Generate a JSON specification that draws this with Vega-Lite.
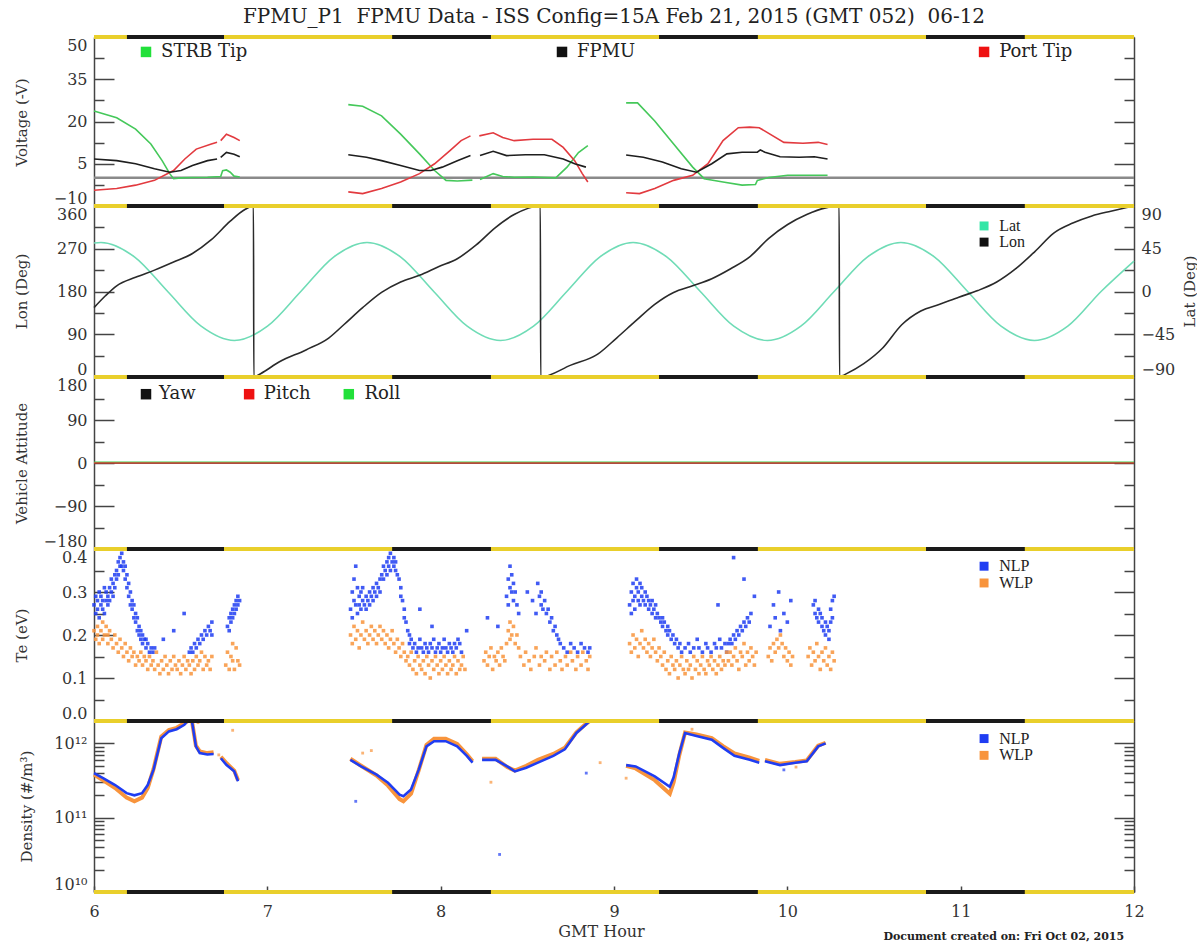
{
"$schema":"https://vega.github.io/schema/vega-lite/v6.json",
"background":"white",
"padding":{"left":14,"top":7,"right":0,"bottom":0},
"title":{"text":"FPMU_P1\u00a0\u00a0FPMU Data - ISS Config=15A Feb 21, 2015 (GMT 052)\u00a0\u00a006-12","fontSize":20,"fontWeight":"normal","font":"DejaVu Serif","color":"#222222","offset":8,"anchor":"middle","frame":"group"},
"config":{"view":{"stroke":null},"font":"DejaVu Serif",
"axis":{"grid":false,"labelFont":"DejaVu Serif","labelFontSize":16,"labelColor":"#333333","titleFont":"DejaVu Serif","titleFontSize":15,"titleFontWeight":"normal","titleColor":"#333333","domainColor":"#444444","domainWidth":1.5,"tickColor":"#444444","tickWidth":1.5}},
"spacing":0,
"bounds":"flush",
"resolve":{"scale":{"color":"independent","y":"independent","x":"independent"}},
"datasets":{
"ecl":[{"a":6.19,"b":6.75},{"a":7.72,"b":8.29},{"a":9.26,"b":9.83},{"a":10.80,"b":11.37}],
"volt":[
{"h":6.0,"v":23.7,"s":"STRB","g":"a1"},{"h":6.131,"v":21.3,"s":"STRB","g":"a1"},{"h":6.24,"v":17.3,"s":"STRB","g":"a1"},{"h":6.328,"v":12.0,"s":"STRB","g":"a1"},{"h":6.393,"v":6.1,"s":"STRB","g":"a1"},{"h":6.437,"v":1.5,"s":"STRB","g":"a1"},{"h":6.459,"v":-0.3,"s":"STRB","g":"a1"},{"h":6.502,"v":0,"s":"STRB","g":"a1"},{"h":6.568,"v":0.1,"s":"STRB","g":"a1"},{"h":6.655,"v":0.2,"s":"STRB","g":"a1"},{"h":6.731,"v":0.5,"s":"STRB","g":"a1"},{"h":6.742,"v":2.5,"s":"STRB","g":"a1"},{"h":6.764,"v":2.8,"s":"STRB","g":"a1"},{"h":6.786,"v":2.0,"s":"STRB","g":"a1"},{"h":6.808,"v":0.6,"s":"STRB","g":"a1"},{"h":6.841,"v":0.3,"s":"STRB","g":"a1"},
{"h":7.467,"v":26.0,"s":"STRB","g":"a2"},{"h":7.55,"v":25.4,"s":"STRB","g":"a2"},{"h":7.659,"v":22.0,"s":"STRB","g":"a2"},{"h":7.769,"v":15.5,"s":"STRB","g":"a2"},{"h":7.878,"v":8.5,"s":"STRB","g":"a2"},{"h":7.965,"v":2.6,"s":"STRB","g":"a2"},{"h":8.031,"v":-0.9,"s":"STRB","g":"a2"},{"h":8.096,"v":-1.1,"s":"STRB","g":"a2"},{"h":8.183,"v":-0.8,"s":"STRB","g":"a2"},
{"h":8.227,"v":-0.6,"s":"STRB","g":"a3"},{"h":8.303,"v":1.5,"s":"STRB","g":"a3"},{"h":8.358,"v":0.5,"s":"STRB","g":"a3"},{"h":8.424,"v":0.2,"s":"STRB","g":"a3"},{"h":8.533,"v":0.3,"s":"STRB","g":"a3"},{"h":8.664,"v":0.0,"s":"STRB","g":"a3"},{"h":8.729,"v":3.8,"s":"STRB","g":"a3"},{"h":8.795,"v":9.0,"s":"STRB","g":"a3"},{"h":8.849,"v":11.4,"s":"STRB","g":"a3"},
{"h":9.07,"v":26.6,"s":"STRB","g":"a4"},{"h":9.136,"v":26.6,"s":"STRB","g":"a4"},{"h":9.235,"v":20.2,"s":"STRB","g":"a4"},{"h":9.344,"v":12.0,"s":"STRB","g":"a4"},{"h":9.454,"v":3.8,"s":"STRB","g":"a4"},{"h":9.52,"v":-0.3,"s":"STRB","g":"a4"},{"h":9.629,"v":-1.5,"s":"STRB","g":"a4"},{"h":9.739,"v":-2.6,"s":"STRB","g":"a4"},{"h":9.816,"v":-2.4,"s":"STRB","g":"a4"},{"h":9.827,"v":-0.9,"s":"STRB","g":"a4"},{"h":9.893,"v":0.1,"s":"STRB","g":"a4"},{"h":10.002,"v":0.9,"s":"STRB","g":"a4"},{"h":10.112,"v":0.9,"s":"STRB","g":"a4"},{"h":10.232,"v":0.9,"s":"STRB","g":"a4"},
{"h":6.0,"v":-4.4,"s":"Port","g":"b1"},{"h":6.131,"v":-3.8,"s":"Port","g":"b1"},{"h":6.24,"v":-2.6,"s":"Port","g":"b1"},{"h":6.349,"v":-0.9,"s":"Port","g":"b1"},{"h":6.459,"v":2.6,"s":"Port","g":"b1"},{"h":6.524,"v":6.7,"s":"Port","g":"b1"},{"h":6.59,"v":10.2,"s":"Port","g":"b1"},{"h":6.677,"v":12.0,"s":"Port","g":"b1"},{"h":6.71,"v":12.6,"s":"Port","g":"b1"},
{"h":6.731,"v":13.2,"s":"Port","g":"b2"},{"h":6.764,"v":15.5,"s":"Port","g":"b2"},{"h":6.808,"v":14.3,"s":"Port","g":"b2"},{"h":6.841,"v":13.2,"s":"Port","g":"b2"},
{"h":7.467,"v":-5.0,"s":"Port","g":"b3"},{"h":7.55,"v":-5.6,"s":"Port","g":"b3"},{"h":7.659,"v":-3.8,"s":"Port","g":"b3"},{"h":7.769,"v":-1.5,"s":"Port","g":"b3"},{"h":7.878,"v":1.5,"s":"Port","g":"b3"},{"h":7.965,"v":5.0,"s":"Port","g":"b3"},{"h":8.052,"v":9.6,"s":"Port","g":"b3"},{"h":8.118,"v":13.2,"s":"Port","g":"b3"},{"h":8.172,"v":14.9,"s":"Port","g":"b3"},
{"h":8.223,"v":14.9,"s":"Port","g":"b4"},{"h":8.303,"v":16.0,"s":"Port","g":"b4"},{"h":8.358,"v":14.3,"s":"Port","g":"b4"},{"h":8.424,"v":13.2,"s":"Port","g":"b4"},{"h":8.533,"v":13.7,"s":"Port","g":"b4"},{"h":8.642,"v":13.7,"s":"Port","g":"b4"},{"h":8.707,"v":10.8,"s":"Port","g":"b4"},{"h":8.773,"v":6.1,"s":"Port","g":"b4"},{"h":8.817,"v":1.5,"s":"Port","g":"b4"},{"h":8.849,"v":-1.5,"s":"Port","g":"b4"},
{"h":9.07,"v":-5.3,"s":"Port","g":"b5"},{"h":9.147,"v":-5.6,"s":"Port","g":"b5"},{"h":9.235,"v":-3.8,"s":"Port","g":"b5"},{"h":9.344,"v":-0.9,"s":"Port","g":"b5"},{"h":9.454,"v":0.9,"s":"Port","g":"b5"},{"h":9.542,"v":5.0,"s":"Port","g":"b5"},{"h":9.629,"v":13.2,"s":"Port","g":"b5"},{"h":9.717,"v":17.8,"s":"Port","g":"b5"},{"h":9.783,"v":18.0,"s":"Port","g":"b5"},{"h":9.838,"v":17.8,"s":"Port","g":"b5"},{"h":9.871,"v":16.6,"s":"Port","g":"b5"},{"h":9.98,"v":12.6,"s":"Port","g":"b5"},{"h":10.09,"v":12.3,"s":"Port","g":"b5"},{"h":10.178,"v":12.6,"s":"Port","g":"b5"},{"h":10.232,"v":11.8,"s":"Port","g":"b5"},
{"h":6.0,"v":6.7,"s":"FPMU","g":"c1"},{"h":6.131,"v":6.1,"s":"FPMU","g":"c1"},{"h":6.24,"v":5.0,"s":"FPMU","g":"c1"},{"h":6.349,"v":3.2,"s":"FPMU","g":"c1"},{"h":6.437,"v":2.0,"s":"FPMU","g":"c1"},{"h":6.502,"v":2.6,"s":"FPMU","g":"c1"},{"h":6.568,"v":4.4,"s":"FPMU","g":"c1"},{"h":6.655,"v":6.1,"s":"FPMU","g":"c1"},{"h":6.71,"v":6.7,"s":"FPMU","g":"c1"},
{"h":6.731,"v":7.3,"s":"FPMU","g":"c2"},{"h":6.764,"v":9.0,"s":"FPMU","g":"c2"},{"h":6.808,"v":8.4,"s":"FPMU","g":"c2"},{"h":6.841,"v":7.5,"s":"FPMU","g":"c2"},
{"h":7.467,"v":8.2,"s":"FPMU","g":"c3"},{"h":7.572,"v":7.3,"s":"FPMU","g":"c3"},{"h":7.659,"v":6.1,"s":"FPMU","g":"c3"},{"h":7.769,"v":4.4,"s":"FPMU","g":"c3"},{"h":7.878,"v":2.6,"s":"FPMU","g":"c3"},{"h":7.943,"v":2.6,"s":"FPMU","g":"c3"},{"h":8.009,"v":3.8,"s":"FPMU","g":"c3"},{"h":8.096,"v":6.1,"s":"FPMU","g":"c3"},{"h":8.172,"v":7.9,"s":"FPMU","g":"c3"},
{"h":8.227,"v":7.9,"s":"FPMU","g":"c4"},{"h":8.303,"v":9.4,"s":"FPMU","g":"c4"},{"h":8.38,"v":7.9,"s":"FPMU","g":"c4"},{"h":8.489,"v":8.2,"s":"FPMU","g":"c4"},{"h":8.598,"v":8.2,"s":"FPMU","g":"c4"},{"h":8.707,"v":6.7,"s":"FPMU","g":"c4"},{"h":8.773,"v":5.0,"s":"FPMU","g":"c4"},{"h":8.838,"v":3.8,"s":"FPMU","g":"c4"},
{"h":9.07,"v":8.1,"s":"FPMU","g":"c5"},{"h":9.169,"v":7.3,"s":"FPMU","g":"c5"},{"h":9.279,"v":5.6,"s":"FPMU","g":"c5"},{"h":9.388,"v":3.2,"s":"FPMU","g":"c5"},{"h":9.476,"v":2.0,"s":"FPMU","g":"c5"},{"h":9.564,"v":5.0,"s":"FPMU","g":"c5"},{"h":9.651,"v":8.5,"s":"FPMU","g":"c5"},{"h":9.739,"v":9.1,"s":"FPMU","g":"c5"},{"h":9.827,"v":9.1,"s":"FPMU","g":"c5"},{"h":9.844,"v":9.9,"s":"FPMU","g":"c5"},{"h":9.871,"v":9.1,"s":"FPMU","g":"c5"},{"h":9.958,"v":7.5,"s":"FPMU","g":"c5"},{"h":10.068,"v":7.3,"s":"FPMU","g":"c5"},{"h":10.156,"v":7.5,"s":"FPMU","g":"c5"},{"h":10.232,"v":6.7,"s":"FPMU","g":"c5"}
],
"lon":[
{"h":6.0,"lon":146},{"h":6.066,"lon":171},{"h":6.131,"lon":192},{"h":6.24,"lon":210},{"h":6.349,"lon":225},{"h":6.459,"lon":242},{"h":6.568,"lon":260},{"h":6.677,"lon":289},{"h":6.786,"lon":328},{"h":6.873,"lon":353},{"h":6.92,"lon":360},{"h":6.922,"lon":0},{"h":6.961,"lon":7},{"h":7.07,"lon":32},{"h":7.223,"lon":57},{"h":7.354,"lon":82},{"h":7.441,"lon":110},{"h":7.55,"lon":146},{"h":7.659,"lon":178},{"h":7.769,"lon":200},{"h":7.878,"lon":214},{"h":7.987,"lon":232},{"h":8.096,"lon":249},{"h":8.205,"lon":278},{"h":8.314,"lon":314},{"h":8.424,"lon":342},{"h":8.575,"lon":360},{"h":8.577,"lon":0},{"h":8.751,"lon":25},{"h":8.906,"lon":48},{"h":9.015,"lon":82},{"h":9.125,"lon":118},{"h":9.235,"lon":153},{"h":9.344,"lon":178},{"h":9.454,"lon":192},{"h":9.564,"lon":207},{"h":9.673,"lon":228},{"h":9.783,"lon":253},{"h":9.893,"lon":292},{"h":10.002,"lon":321},{"h":10.112,"lon":342},{"h":10.221,"lon":356},{"h":10.299,"lon":360},{"h":10.301,"lon":0},{"h":10.331,"lon":5},{"h":10.441,"lon":28},{"h":10.55,"lon":61},{"h":10.66,"lon":110},{"h":10.77,"lon":139},{"h":10.879,"lon":153},{"h":10.989,"lon":168},{"h":11.099,"lon":182},{"h":11.208,"lon":200},{"h":11.318,"lon":228},{"h":11.428,"lon":264},{"h":11.537,"lon":303},{"h":11.647,"lon":324},{"h":11.757,"lon":339},{"h":11.866,"lon":349},{"h":12.0,"lon":360}
],
"lat":[
{"h":6.0,"lat":51.0},{"h":6.04,"lat":51.6},{"h":6.233,"lat":36.5},{"h":6.425,"lat":0},{"h":6.618,"lat":-36.5},{"h":6.81,"lat":-51.6},{"h":7.001,"lat":-36.5},{"h":7.193,"lat":0},{"h":7.384,"lat":36.5},{"h":7.575,"lat":51.6},{"h":7.768,"lat":36.5},{"h":7.96,"lat":0},{"h":8.153,"lat":-36.5},{"h":8.345,"lat":-51.6},{"h":8.536,"lat":-36.5},{"h":8.728,"lat":0},{"h":8.919,"lat":36.5},{"h":9.11,"lat":51.6},{"h":9.304,"lat":36.5},{"h":9.498,"lat":0},{"h":9.691,"lat":-36.5},{"h":9.885,"lat":-51.6},{"h":10.078,"lat":-36.5},{"h":10.27,"lat":0},{"h":10.463,"lat":36.5},{"h":10.655,"lat":51.6},{"h":10.848,"lat":36.5},{"h":11.04,"lat":0},{"h":11.233,"lat":-36.5},{"h":11.425,"lat":-51.6},{"h":11.618,"lat":-36.5},{"h":11.81,"lat":0},{"h":12.0,"lat":32}
],
"att":[
{"h":6,"a":0,"s":"Yaw"},{"h":12,"a":0,"s":"Yaw"},{"h":6,"a":1.5,"s":"Roll"},{"h":12,"a":1.5,"s":"Roll"},{"h":6,"a":0,"s":"Pitch"},{"h":12,"a":0,"s":"Pitch"}
],
"te":[
{"h":6.00,"t":0.27,"p":"N"},{"h":6.01,"t":0.25,"p":"N"},{"h":6.01,"t":0.29,"p":"N"},{"h":6.02,"t":0.28,"p":"N"},{"h":6.02,"t":0.26,"p":"N"},{"h":6.03,"t":0.30,"p":"N"},{"h":6.03,"t":0.24,"p":"N"},{"h":6.04,"t":0.27,"p":"N"},{"h":6.04,"t":0.29,"p":"N"},{"h":6.05,"t":0.28,"p":"N"},{"h":6.05,"t":0.26,"p":"N"},{"h":6.06,"t":0.31,"p":"N"},{"h":6.06,"t":0.25,"p":"N"},{"h":6.07,"t":0.28,"p":"N"},{"h":6.07,"t":0.30,"p":"N"},{"h":6.08,"t":0.27,"p":"N"},{"h":6.08,"t":0.29,"p":"N"},{"h":6.09,"t":0.31,"p":"N"},{"h":6.09,"t":0.28,"p":"N"},{"h":6.10,"t":0.30,"p":"N"},{"h":6.10,"t":0.33,"p":"N"},
{"h":6.11,"t":0.32,"p":"N"},{"h":6.11,"t":0.29,"p":"N"},{"h":6.12,"t":0.34,"p":"N"},{"h":6.12,"t":0.31,"p":"N"},{"h":6.13,"t":0.35,"p":"N"},{"h":6.13,"t":0.33,"p":"N"},{"h":6.14,"t":0.37,"p":"N"},{"h":6.14,"t":0.34,"p":"N"},{"h":6.15,"t":0.38,"p":"N"},{"h":6.15,"t":0.36,"p":"N"},{"h":6.16,"t":0.39,"p":"N"},{"h":6.16,"t":0.36,"p":"N"},{"h":6.17,"t":0.37,"p":"N"},{"h":6.17,"t":0.35,"p":"N"},{"h":6.18,"t":0.36,"p":"N"},
{"h":6.18,"t":0.33,"p":"N"},{"h":6.19,"t":0.34,"p":"N"},{"h":6.19,"t":0.31,"p":"N"},{"h":6.20,"t":0.32,"p":"N"},{"h":6.20,"t":0.29,"p":"N"},{"h":6.21,"t":0.30,"p":"N"},{"h":6.21,"t":0.27,"p":"N"},{"h":6.22,"t":0.28,"p":"N"},{"h":6.22,"t":0.26,"p":"N"},{"h":6.23,"t":0.27,"p":"N"},{"h":6.23,"t":0.24,"p":"N"},{"h":6.24,"t":0.25,"p":"N"},{"h":6.24,"t":0.23,"p":"N"},{"h":6.25,"t":0.24,"p":"N"},{"h":6.25,"t":0.21,"p":"N"},{"h":6.26,"t":0.22,"p":"N"},{"h":6.26,"t":0.20,"p":"N"},{"h":6.27,"t":0.21,"p":"N"},{"h":6.27,"t":0.19,"p":"N"},{"h":6.28,"t":0.20,"p":"N"},{"h":6.28,"t":0.18,"p":"N"},{"h":6.29,"t":0.19,"p":"N"},{"h":6.30,"t":0.17,"p":"N"},{"h":6.30,"t":0.19,"p":"N"},{"h":6.31,"t":0.18,"p":"N"},{"h":6.32,"t":0.16,"p":"N"},{"h":6.33,"t":0.17,"p":"N"},{"h":6.34,"t":0.16,"p":"N"},{"h":6.35,"t":0.17,"p":"N"},
{"h":6.40,"t":0.19,"p":"N"},{"h":6.46,"t":0.21,"p":"N"},{"h":6.52,"t":0.25,"p":"N"},
{"h":6.55,"t":0.16,"p":"N"},{"h":6.56,"t":0.17,"p":"N"},{"h":6.57,"t":0.16,"p":"N"},{"h":6.58,"t":0.18,"p":"N"},{"h":6.59,"t":0.17,"p":"N"},{"h":6.60,"t":0.19,"p":"N"},{"h":6.61,"t":0.18,"p":"N"},{"h":6.62,"t":0.20,"p":"N"},{"h":6.63,"t":0.19,"p":"N"},{"h":6.64,"t":0.21,"p":"N"},{"h":6.65,"t":0.20,"p":"N"},{"h":6.66,"t":0.22,"p":"N"},{"h":6.67,"t":0.21,"p":"N"},{"h":6.68,"t":0.23,"p":"N"},{"h":6.68,"t":0.20,"p":"N"},
{"h":6.77,"t":0.22,"p":"N"},{"h":6.78,"t":0.24,"p":"N"},{"h":6.78,"t":0.21,"p":"N"},{"h":6.79,"t":0.25,"p":"N"},{"h":6.79,"t":0.23,"p":"N"},{"h":6.80,"t":0.26,"p":"N"},{"h":6.80,"t":0.24,"p":"N"},{"h":6.81,"t":0.27,"p":"N"},{"h":6.81,"t":0.25,"p":"N"},{"h":6.82,"t":0.28,"p":"N"},{"h":6.82,"t":0.26,"p":"N"},{"h":6.83,"t":0.29,"p":"N"},{"h":6.83,"t":0.27,"p":"N"},{"h":6.84,"t":0.28,"p":"N"},
{"h":7.48,"t":0.26,"p":"N"},{"h":7.49,"t":0.30,"p":"N"},{"h":7.49,"t":0.24,"p":"N"},{"h":7.50,"t":0.33,"p":"N"},{"h":7.50,"t":0.28,"p":"N"},{"h":7.51,"t":0.36,"p":"N"},{"h":7.51,"t":0.27,"p":"N"},{"h":7.52,"t":0.31,"p":"N"},{"h":7.52,"t":0.25,"p":"N"},{"h":7.53,"t":0.29,"p":"N"},{"h":7.53,"t":0.27,"p":"N"},{"h":7.54,"t":0.30,"p":"N"},{"h":7.54,"t":0.26,"p":"N"},{"h":7.55,"t":0.28,"p":"N"},{"h":7.55,"t":0.31,"p":"N"},{"h":7.56,"t":0.27,"p":"N"},
{"h":7.57,"t":0.29,"p":"N"},{"h":7.57,"t":0.26,"p":"N"},{"h":7.58,"t":0.28,"p":"N"},{"h":7.59,"t":0.30,"p":"N"},{"h":7.59,"t":0.27,"p":"N"},{"h":7.60,"t":0.29,"p":"N"},{"h":7.61,"t":0.28,"p":"N"},{"h":7.61,"t":0.31,"p":"N"},{"h":7.62,"t":0.30,"p":"N"},{"h":7.63,"t":0.29,"p":"N"},{"h":7.63,"t":0.32,"p":"N"},{"h":7.64,"t":0.31,"p":"N"},{"h":7.65,"t":0.30,"p":"N"},{"h":7.65,"t":0.33,"p":"N"},
{"h":7.66,"t":0.34,"p":"N"},{"h":7.67,"t":0.33,"p":"N"},{"h":7.67,"t":0.36,"p":"N"},{"h":7.68,"t":0.35,"p":"N"},{"h":7.69,"t":0.37,"p":"N"},{"h":7.69,"t":0.34,"p":"N"},{"h":7.70,"t":0.38,"p":"N"},{"h":7.70,"t":0.36,"p":"N"},{"h":7.71,"t":0.39,"p":"N"},{"h":7.71,"t":0.35,"p":"N"},{"h":7.72,"t":0.37,"p":"N"},{"h":7.72,"t":0.40,"p":"N"},{"h":7.73,"t":0.36,"p":"N"},{"h":7.73,"t":0.38,"p":"N"},{"h":7.74,"t":0.35,"p":"N"},{"h":7.74,"t":0.37,"p":"N"},{"h":7.75,"t":0.34,"p":"N"},{"h":7.76,"t":0.33,"p":"N"},
{"h":7.77,"t":0.31,"p":"N"},{"h":7.77,"t":0.29,"p":"N"},{"h":7.78,"t":0.28,"p":"N"},{"h":7.79,"t":0.26,"p":"N"},{"h":7.79,"t":0.24,"p":"N"},{"h":7.80,"t":0.23,"p":"N"},{"h":7.81,"t":0.21,"p":"N"},{"h":7.82,"t":0.20,"p":"N"},{"h":7.82,"t":0.18,"p":"N"},{"h":7.83,"t":0.19,"p":"N"},{"h":7.84,"t":0.17,"p":"N"},
{"h":7.85,"t":0.18,"p":"N"},{"h":7.86,"t":0.16,"p":"N"},{"h":7.87,"t":0.17,"p":"N"},{"h":7.88,"t":0.19,"p":"N"},{"h":7.89,"t":0.17,"p":"N"},{"h":7.90,"t":0.16,"p":"N"},{"h":7.91,"t":0.18,"p":"N"},{"h":7.92,"t":0.17,"p":"N"},{"h":7.93,"t":0.16,"p":"N"},{"h":7.94,"t":0.18,"p":"N"},{"h":7.95,"t":0.17,"p":"N"},{"h":7.96,"t":0.19,"p":"N"},{"h":7.97,"t":0.16,"p":"N"},{"h":7.98,"t":0.17,"p":"N"},{"h":7.99,"t":0.18,"p":"N"},{"h":8.00,"t":0.16,"p":"N"},{"h":8.01,"t":0.17,"p":"N"},{"h":8.02,"t":0.19,"p":"N"},{"h":8.03,"t":0.17,"p":"N"},{"h":8.04,"t":0.16,"p":"N"},{"h":8.05,"t":0.18,"p":"N"},{"h":8.06,"t":0.17,"p":"N"},{"h":8.07,"t":0.16,"p":"N"},{"h":8.08,"t":0.18,"p":"N"},{"h":8.09,"t":0.17,"p":"N"},{"h":8.10,"t":0.19,"p":"N"},{"h":8.11,"t":0.18,"p":"N"},{"h":8.12,"t":0.16,"p":"N"},
{"h":7.88,"t":0.26,"p":"N"},{"h":7.95,"t":0.22,"p":"N"},{"h":8.15,"t":0.21,"p":"N"},{"h":8.27,"t":0.24,"p":"N"},{"h":8.33,"t":0.22,"p":"N"},
{"h":8.38,"t":0.29,"p":"N"},{"h":8.39,"t":0.33,"p":"N"},{"h":8.39,"t":0.27,"p":"N"},{"h":8.40,"t":0.36,"p":"N"},{"h":8.40,"t":0.31,"p":"N"},{"h":8.41,"t":0.34,"p":"N"},{"h":8.41,"t":0.30,"p":"N"},{"h":8.42,"t":0.32,"p":"N"},{"h":8.42,"t":0.28,"p":"N"},{"h":8.43,"t":0.30,"p":"N"},{"h":8.44,"t":0.27,"p":"N"},{"h":8.45,"t":0.25,"p":"N"},
{"h":8.50,"t":0.30,"p":"N"},{"h":8.53,"t":0.28,"p":"N"},{"h":8.55,"t":0.25,"p":"N"},
{"h":8.56,"t":0.32,"p":"N"},{"h":8.57,"t":0.29,"p":"N"},{"h":8.58,"t":0.27,"p":"N"},{"h":8.58,"t":0.30,"p":"N"},{"h":8.59,"t":0.26,"p":"N"},{"h":8.60,"t":0.28,"p":"N"},{"h":8.61,"t":0.25,"p":"N"},{"h":8.62,"t":0.26,"p":"N"},{"h":8.63,"t":0.23,"p":"N"},{"h":8.64,"t":0.24,"p":"N"},{"h":8.65,"t":0.21,"p":"N"},{"h":8.66,"t":0.22,"p":"N"},{"h":8.67,"t":0.20,"p":"N"},{"h":8.68,"t":0.19,"p":"N"},{"h":8.69,"t":0.18,"p":"N"},
{"h":8.71,"t":0.17,"p":"N"},{"h":8.73,"t":0.16,"p":"N"},{"h":8.75,"t":0.18,"p":"N"},{"h":8.77,"t":0.17,"p":"N"},{"h":8.79,"t":0.16,"p":"N"},{"h":8.81,"t":0.18,"p":"N"},{"h":8.83,"t":0.17,"p":"N"},{"h":8.85,"t":0.16,"p":"N"},{"h":8.86,"t":0.17,"p":"N"},
{"h":9.09,"t":0.27,"p":"N"},{"h":9.10,"t":0.30,"p":"N"},{"h":9.10,"t":0.25,"p":"N"},{"h":9.11,"t":0.32,"p":"N"},{"h":9.11,"t":0.28,"p":"N"},{"h":9.12,"t":0.29,"p":"N"},{"h":9.12,"t":0.26,"p":"N"},{"h":9.13,"t":0.31,"p":"N"},{"h":9.13,"t":0.33,"p":"N"},{"h":9.14,"t":0.28,"p":"N"},{"h":9.14,"t":0.30,"p":"N"},{"h":9.15,"t":0.27,"p":"N"},{"h":9.15,"t":0.32,"p":"N"},{"h":9.16,"t":0.29,"p":"N"},{"h":9.16,"t":0.31,"p":"N"},{"h":9.17,"t":0.28,"p":"N"},
{"h":9.18,"t":0.30,"p":"N"},{"h":9.18,"t":0.27,"p":"N"},{"h":9.19,"t":0.29,"p":"N"},{"h":9.20,"t":0.28,"p":"N"},{"h":9.20,"t":0.26,"p":"N"},{"h":9.21,"t":0.27,"p":"N"},{"h":9.22,"t":0.28,"p":"N"},{"h":9.22,"t":0.25,"p":"N"},{"h":9.23,"t":0.26,"p":"N"},{"h":9.24,"t":0.27,"p":"N"},{"h":9.24,"t":0.24,"p":"N"},{"h":9.25,"t":0.25,"p":"N"},{"h":9.26,"t":0.24,"p":"N"},
{"h":9.27,"t":0.23,"p":"N"},{"h":9.28,"t":0.24,"p":"N"},{"h":9.28,"t":0.22,"p":"N"},{"h":9.29,"t":0.23,"p":"N"},{"h":9.30,"t":0.21,"p":"N"},{"h":9.31,"t":0.22,"p":"N"},{"h":9.31,"t":0.20,"p":"N"},{"h":9.32,"t":0.21,"p":"N"},{"h":9.33,"t":0.19,"p":"N"},{"h":9.34,"t":0.20,"p":"N"},{"h":9.35,"t":0.18,"p":"N"},{"h":9.36,"t":0.19,"p":"N"},{"h":9.37,"t":0.17,"p":"N"},{"h":9.38,"t":0.18,"p":"N"},{"h":9.39,"t":0.16,"p":"N"},
{"h":9.41,"t":0.17,"p":"N"},{"h":9.43,"t":0.18,"p":"N"},{"h":9.44,"t":0.16,"p":"N"},{"h":9.46,"t":0.17,"p":"N"},{"h":9.48,"t":0.19,"p":"N"},{"h":9.49,"t":0.17,"p":"N"},{"h":9.51,"t":0.16,"p":"N"},{"h":9.53,"t":0.18,"p":"N"},{"h":9.54,"t":0.17,"p":"N"},{"h":9.56,"t":0.16,"p":"N"},{"h":9.58,"t":0.18,"p":"N"},{"h":9.59,"t":0.17,"p":"N"},{"h":9.61,"t":0.19,"p":"N"},{"h":9.62,"t":0.17,"p":"N"},{"h":9.64,"t":0.18,"p":"N"},{"h":9.65,"t":0.16,"p":"N"},
{"h":9.66,"t":0.18,"p":"N"},{"h":9.67,"t":0.19,"p":"N"},{"h":9.68,"t":0.18,"p":"N"},{"h":9.69,"t":0.20,"p":"N"},{"h":9.70,"t":0.19,"p":"N"},{"h":9.71,"t":0.21,"p":"N"},{"h":9.72,"t":0.20,"p":"N"},{"h":9.73,"t":0.22,"p":"N"},{"h":9.74,"t":0.21,"p":"N"},{"h":9.75,"t":0.23,"p":"N"},{"h":9.76,"t":0.22,"p":"N"},{"h":9.77,"t":0.24,"p":"N"},{"h":9.78,"t":0.23,"p":"N"},{"h":9.79,"t":0.25,"p":"N"},
{"h":9.69,"t":0.38,"p":"N"},{"h":9.75,"t":0.33,"p":"N"},{"h":9.81,"t":0.29,"p":"N"},{"h":9.60,"t":0.27,"p":"N"},
{"h":9.90,"t":0.22,"p":"N"},{"h":9.92,"t":0.27,"p":"N"},{"h":9.93,"t":0.24,"p":"N"},{"h":9.95,"t":0.30,"p":"N"},{"h":9.96,"t":0.21,"p":"N"},{"h":9.98,"t":0.25,"p":"N"},{"h":10.00,"t":0.23,"p":"N"},{"h":10.02,"t":0.28,"p":"N"},
{"h":10.15,"t":0.27,"p":"N"},{"h":10.16,"t":0.25,"p":"N"},{"h":10.16,"t":0.28,"p":"N"},{"h":10.17,"t":0.24,"p":"N"},{"h":10.18,"t":0.26,"p":"N"},{"h":10.18,"t":0.23,"p":"N"},{"h":10.19,"t":0.25,"p":"N"},{"h":10.20,"t":0.22,"p":"N"},{"h":10.20,"t":0.24,"p":"N"},{"h":10.21,"t":0.21,"p":"N"},{"h":10.22,"t":0.23,"p":"N"},{"h":10.22,"t":0.20,"p":"N"},{"h":10.23,"t":0.22,"p":"N"},{"h":10.24,"t":0.21,"p":"N"},{"h":10.24,"t":0.19,"p":"N"},{"h":10.25,"t":0.23,"p":"N"},{"h":10.25,"t":0.26,"p":"N"},{"h":10.26,"t":0.24,"p":"N"},{"h":10.26,"t":0.28,"p":"N"},{"h":10.27,"t":0.29,"p":"N"},
{"h":6.00,"t":0.21,"p":"W"},{"h":6.01,"t":0.19,"p":"W"},{"h":6.02,"t":0.22,"p":"W"},{"h":6.02,"t":0.20,"p":"W"},{"h":6.03,"t":0.18,"p":"W"},{"h":6.04,"t":0.21,"p":"W"},{"h":6.05,"t":0.23,"p":"W"},{"h":6.05,"t":0.19,"p":"W"},{"h":6.06,"t":0.20,"p":"W"},{"h":6.07,"t":0.22,"p":"W"},{"h":6.08,"t":0.18,"p":"W"},{"h":6.08,"t":0.20,"p":"W"},{"h":6.09,"t":0.21,"p":"W"},{"h":6.10,"t":0.19,"p":"W"},{"h":6.11,"t":0.17,"p":"W"},{"h":6.12,"t":0.20,"p":"W"},
{"h":6.13,"t":0.18,"p":"W"},{"h":6.14,"t":0.16,"p":"W"},{"h":6.15,"t":0.19,"p":"W"},{"h":6.16,"t":0.17,"p":"W"},{"h":6.17,"t":0.15,"p":"W"},{"h":6.18,"t":0.18,"p":"W"},{"h":6.19,"t":0.16,"p":"W"},{"h":6.20,"t":0.14,"p":"W"},{"h":6.21,"t":0.17,"p":"W"},{"h":6.22,"t":0.15,"p":"W"},{"h":6.23,"t":0.16,"p":"W"},{"h":6.24,"t":0.13,"p":"W"},{"h":6.25,"t":0.15,"p":"W"},{"h":6.26,"t":0.14,"p":"W"},{"h":6.27,"t":0.16,"p":"W"},{"h":6.28,"t":0.13,"p":"W"},{"h":6.29,"t":0.15,"p":"W"},{"h":6.30,"t":0.14,"p":"W"},
{"h":6.31,"t":0.12,"p":"W"},{"h":6.32,"t":0.15,"p":"W"},{"h":6.33,"t":0.13,"p":"W"},{"h":6.34,"t":0.14,"p":"W"},{"h":6.35,"t":0.12,"p":"W"},{"h":6.36,"t":0.16,"p":"W"},{"h":6.37,"t":0.13,"p":"W"},{"h":6.38,"t":0.11,"p":"W"},{"h":6.39,"t":0.14,"p":"W"},{"h":6.40,"t":0.12,"p":"W"},{"h":6.41,"t":0.15,"p":"W"},{"h":6.42,"t":0.13,"p":"W"},{"h":6.43,"t":0.11,"p":"W"},{"h":6.44,"t":0.14,"p":"W"},{"h":6.45,"t":0.12,"p":"W"},{"h":6.46,"t":0.15,"p":"W"},{"h":6.47,"t":0.13,"p":"W"},{"h":6.48,"t":0.12,"p":"W"},{"h":6.49,"t":0.14,"p":"W"},{"h":6.50,"t":0.11,"p":"W"},{"h":6.51,"t":0.13,"p":"W"},{"h":6.52,"t":0.15,"p":"W"},{"h":6.53,"t":0.12,"p":"W"},{"h":6.54,"t":0.14,"p":"W"},{"h":6.55,"t":0.13,"p":"W"},{"h":6.56,"t":0.11,"p":"W"},{"h":6.57,"t":0.14,"p":"W"},{"h":6.58,"t":0.12,"p":"W"},{"h":6.59,"t":0.15,"p":"W"},{"h":6.60,"t":0.13,"p":"W"},{"h":6.61,"t":0.14,"p":"W"},{"h":6.62,"t":0.16,"p":"W"},{"h":6.63,"t":0.12,"p":"W"},{"h":6.64,"t":0.15,"p":"W"},{"h":6.65,"t":0.13,"p":"W"},{"h":6.66,"t":0.14,"p":"W"},{"h":6.67,"t":0.12,"p":"W"},{"h":6.68,"t":0.15,"p":"W"},
{"h":6.76,"t":0.13,"p":"W"},{"h":6.77,"t":0.16,"p":"W"},{"h":6.78,"t":0.12,"p":"W"},{"h":6.79,"t":0.15,"p":"W"},{"h":6.80,"t":0.18,"p":"W"},{"h":6.80,"t":0.14,"p":"W"},{"h":6.81,"t":0.12,"p":"W"},{"h":6.82,"t":0.17,"p":"W"},{"h":6.83,"t":0.14,"p":"W"},{"h":6.84,"t":0.13,"p":"W"},
{"h":7.48,"t":0.20,"p":"W"},{"h":7.49,"t":0.18,"p":"W"},{"h":7.50,"t":0.22,"p":"W"},{"h":7.51,"t":0.19,"p":"W"},{"h":7.52,"t":0.21,"p":"W"},{"h":7.53,"t":0.17,"p":"W"},{"h":7.54,"t":0.20,"p":"W"},{"h":7.55,"t":0.23,"p":"W"},{"h":7.56,"t":0.19,"p":"W"},{"h":7.57,"t":0.21,"p":"W"},{"h":7.58,"t":0.18,"p":"W"},{"h":7.59,"t":0.20,"p":"W"},{"h":7.60,"t":0.22,"p":"W"},{"h":7.61,"t":0.19,"p":"W"},{"h":7.62,"t":0.21,"p":"W"},{"h":7.63,"t":0.18,"p":"W"},{"h":7.64,"t":0.20,"p":"W"},{"h":7.65,"t":0.22,"p":"W"},{"h":7.66,"t":0.19,"p":"W"},
{"h":7.67,"t":0.21,"p":"W"},{"h":7.68,"t":0.18,"p":"W"},{"h":7.69,"t":0.20,"p":"W"},{"h":7.70,"t":0.17,"p":"W"},{"h":7.71,"t":0.19,"p":"W"},{"h":7.72,"t":0.21,"p":"W"},{"h":7.73,"t":0.18,"p":"W"},{"h":7.74,"t":0.16,"p":"W"},{"h":7.75,"t":0.19,"p":"W"},{"h":7.76,"t":0.17,"p":"W"},{"h":7.77,"t":0.15,"p":"W"},{"h":7.78,"t":0.18,"p":"W"},{"h":7.79,"t":0.16,"p":"W"},{"h":7.80,"t":0.14,"p":"W"},
{"h":7.81,"t":0.15,"p":"W"},{"h":7.82,"t":0.13,"p":"W"},{"h":7.83,"t":0.16,"p":"W"},{"h":7.84,"t":0.12,"p":"W"},{"h":7.85,"t":0.14,"p":"W"},{"h":7.86,"t":0.11,"p":"W"},{"h":7.87,"t":0.15,"p":"W"},{"h":7.88,"t":0.13,"p":"W"},{"h":7.89,"t":0.12,"p":"W"},{"h":7.90,"t":0.14,"p":"W"},{"h":7.91,"t":0.11,"p":"W"},{"h":7.92,"t":0.15,"p":"W"},{"h":7.93,"t":0.13,"p":"W"},{"h":7.94,"t":0.10,"p":"W"},{"h":7.95,"t":0.14,"p":"W"},{"h":7.96,"t":0.12,"p":"W"},{"h":7.97,"t":0.15,"p":"W"},{"h":7.98,"t":0.13,"p":"W"},{"h":7.99,"t":0.11,"p":"W"},{"h":8.00,"t":0.14,"p":"W"},{"h":8.01,"t":0.12,"p":"W"},{"h":8.02,"t":0.15,"p":"W"},{"h":8.03,"t":0.13,"p":"W"},{"h":8.04,"t":0.11,"p":"W"},{"h":8.05,"t":0.14,"p":"W"},{"h":8.06,"t":0.12,"p":"W"},{"h":8.07,"t":0.13,"p":"W"},{"h":8.08,"t":0.15,"p":"W"},{"h":8.09,"t":0.11,"p":"W"},{"h":8.10,"t":0.14,"p":"W"},{"h":8.11,"t":0.12,"p":"W"},{"h":8.12,"t":0.13,"p":"W"},{"h":8.13,"t":0.15,"p":"W"},{"h":8.14,"t":0.12,"p":"W"},
{"h":8.25,"t":0.14,"p":"W"},{"h":8.26,"t":0.16,"p":"W"},{"h":8.27,"t":0.13,"p":"W"},{"h":8.28,"t":0.15,"p":"W"},{"h":8.29,"t":0.17,"p":"W"},{"h":8.30,"t":0.12,"p":"W"},{"h":8.31,"t":0.15,"p":"W"},{"h":8.32,"t":0.14,"p":"W"},{"h":8.33,"t":0.16,"p":"W"},{"h":8.34,"t":0.13,"p":"W"},{"h":8.35,"t":0.17,"p":"W"},{"h":8.36,"t":0.15,"p":"W"},{"h":8.37,"t":0.14,"p":"W"},
{"h":8.38,"t":0.18,"p":"W"},{"h":8.39,"t":0.21,"p":"W"},{"h":8.40,"t":0.19,"p":"W"},{"h":8.40,"t":0.23,"p":"W"},{"h":8.41,"t":0.20,"p":"W"},{"h":8.42,"t":0.22,"p":"W"},{"h":8.43,"t":0.18,"p":"W"},{"h":8.44,"t":0.20,"p":"W"},{"h":8.45,"t":0.17,"p":"W"},
{"h":8.46,"t":0.15,"p":"W"},{"h":8.48,"t":0.13,"p":"W"},{"h":8.49,"t":0.16,"p":"W"},{"h":8.51,"t":0.14,"p":"W"},{"h":8.52,"t":0.12,"p":"W"},{"h":8.54,"t":0.15,"p":"W"},{"h":8.55,"t":0.17,"p":"W"},{"h":8.57,"t":0.13,"p":"W"},{"h":8.58,"t":0.15,"p":"W"},{"h":8.60,"t":0.14,"p":"W"},{"h":8.61,"t":0.16,"p":"W"},{"h":8.63,"t":0.12,"p":"W"},{"h":8.64,"t":0.15,"p":"W"},{"h":8.66,"t":0.13,"p":"W"},{"h":8.67,"t":0.16,"p":"W"},{"h":8.69,"t":0.14,"p":"W"},{"h":8.70,"t":0.12,"p":"W"},{"h":8.72,"t":0.15,"p":"W"},{"h":8.73,"t":0.13,"p":"W"},{"h":8.75,"t":0.16,"p":"W"},{"h":8.76,"t":0.14,"p":"W"},{"h":8.78,"t":0.12,"p":"W"},{"h":8.79,"t":0.15,"p":"W"},{"h":8.81,"t":0.13,"p":"W"},{"h":8.82,"t":0.16,"p":"W"},{"h":8.84,"t":0.14,"p":"W"},{"h":8.85,"t":0.12,"p":"W"},{"h":8.86,"t":0.15,"p":"W"},
{"h":9.09,"t":0.18,"p":"W"},{"h":9.10,"t":0.16,"p":"W"},{"h":9.11,"t":0.20,"p":"W"},{"h":9.12,"t":0.17,"p":"W"},{"h":9.13,"t":0.19,"p":"W"},{"h":9.14,"t":0.15,"p":"W"},{"h":9.15,"t":0.18,"p":"W"},{"h":9.16,"t":0.21,"p":"W"},{"h":9.17,"t":0.17,"p":"W"},{"h":9.18,"t":0.19,"p":"W"},{"h":9.19,"t":0.16,"p":"W"},{"h":9.20,"t":0.18,"p":"W"},{"h":9.21,"t":0.15,"p":"W"},{"h":9.22,"t":0.17,"p":"W"},{"h":9.23,"t":0.19,"p":"W"},{"h":9.24,"t":0.16,"p":"W"},{"h":9.25,"t":0.14,"p":"W"},{"h":9.26,"t":0.17,"p":"W"},
{"h":9.27,"t":0.15,"p":"W"},{"h":9.28,"t":0.13,"p":"W"},{"h":9.29,"t":0.16,"p":"W"},{"h":9.30,"t":0.12,"p":"W"},{"h":9.31,"t":0.14,"p":"W"},{"h":9.32,"t":0.11,"p":"W"},{"h":9.33,"t":0.15,"p":"W"},{"h":9.34,"t":0.13,"p":"W"},{"h":9.35,"t":0.12,"p":"W"},{"h":9.36,"t":0.14,"p":"W"},{"h":9.37,"t":0.10,"p":"W"},{"h":9.38,"t":0.13,"p":"W"},{"h":9.39,"t":0.15,"p":"W"},{"h":9.40,"t":0.12,"p":"W"},{"h":9.41,"t":0.11,"p":"W"},{"h":9.42,"t":0.14,"p":"W"},{"h":9.43,"t":0.12,"p":"W"},{"h":9.44,"t":0.13,"p":"W"},{"h":9.45,"t":0.10,"p":"W"},{"h":9.46,"t":0.15,"p":"W"},{"h":9.47,"t":0.12,"p":"W"},{"h":9.48,"t":0.14,"p":"W"},{"h":9.49,"t":0.11,"p":"W"},{"h":9.50,"t":0.13,"p":"W"},{"h":9.51,"t":0.15,"p":"W"},{"h":9.52,"t":0.12,"p":"W"},{"h":9.53,"t":0.11,"p":"W"},{"h":9.54,"t":0.14,"p":"W"},{"h":9.55,"t":0.13,"p":"W"},{"h":9.56,"t":0.15,"p":"W"},{"h":9.57,"t":0.12,"p":"W"},{"h":9.58,"t":0.14,"p":"W"},{"h":9.59,"t":0.11,"p":"W"},{"h":9.60,"t":0.13,"p":"W"},{"h":9.61,"t":0.15,"p":"W"},{"h":9.62,"t":0.12,"p":"W"},{"h":9.63,"t":0.14,"p":"W"},{"h":9.64,"t":0.13,"p":"W"},{"h":9.65,"t":0.16,"p":"W"},
{"h":9.66,"t":0.14,"p":"W"},{"h":9.67,"t":0.16,"p":"W"},{"h":9.68,"t":0.13,"p":"W"},{"h":9.69,"t":0.15,"p":"W"},{"h":9.70,"t":0.17,"p":"W"},{"h":9.71,"t":0.14,"p":"W"},{"h":9.72,"t":0.12,"p":"W"},{"h":9.73,"t":0.16,"p":"W"},{"h":9.74,"t":0.15,"p":"W"},{"h":9.75,"t":0.18,"p":"W"},{"h":9.76,"t":0.13,"p":"W"},{"h":9.77,"t":0.16,"p":"W"},{"h":9.78,"t":0.14,"p":"W"},{"h":9.79,"t":0.17,"p":"W"},{"h":9.80,"t":0.15,"p":"W"},{"h":9.81,"t":0.13,"p":"W"},{"h":9.82,"t":0.16,"p":"W"},
{"h":9.89,"t":0.15,"p":"W"},{"h":9.90,"t":0.17,"p":"W"},{"h":9.91,"t":0.14,"p":"W"},{"h":9.92,"t":0.18,"p":"W"},{"h":9.93,"t":0.16,"p":"W"},{"h":9.94,"t":0.19,"p":"W"},{"h":9.95,"t":0.17,"p":"W"},{"h":9.96,"t":0.20,"p":"W"},{"h":9.97,"t":0.18,"p":"W"},{"h":9.98,"t":0.15,"p":"W"},{"h":9.99,"t":0.17,"p":"W"},{"h":10.00,"t":0.14,"p":"W"},{"h":10.01,"t":0.16,"p":"W"},{"h":10.02,"t":0.13,"p":"W"},{"h":10.03,"t":0.15,"p":"W"},
{"h":10.12,"t":0.15,"p":"W"},{"h":10.13,"t":0.17,"p":"W"},{"h":10.14,"t":0.13,"p":"W"},{"h":10.15,"t":0.16,"p":"W"},{"h":10.16,"t":0.14,"p":"W"},{"h":10.17,"t":0.18,"p":"W"},{"h":10.18,"t":0.15,"p":"W"},{"h":10.19,"t":0.12,"p":"W"},{"h":10.20,"t":0.16,"p":"W"},{"h":10.21,"t":0.14,"p":"W"},{"h":10.22,"t":0.17,"p":"W"},{"h":10.23,"t":0.13,"p":"W"},{"h":10.24,"t":0.15,"p":"W"},{"h":10.25,"t":0.12,"p":"W"},{"h":10.26,"t":0.16,"p":"W"},{"h":10.27,"t":0.14,"p":"W"}
],
"dens":[
{"h":6.0,"n":3.8e11,"p":"W","g":"1"},{"h":6.055,"n":3.16e11,"p":"W","g":"1"},{"h":6.122,"n":2.51e11,"p":"W","g":"1"},{"h":6.188,"n":1.86e11,"p":"W","g":"1"},{"h":6.233,"n":1.66e11,"p":"W","g":"1"},{"h":6.277,"n":1.86e11,"p":"W","g":"1"},{"h":6.31,"n":2.51e11,"p":"W","g":"1"},{"h":6.344,"n":4.57e11,"p":"W","g":"1"},{"h":6.388,"n":1.23e12,"p":"W","g":"1"},{"h":6.432,"n":1.51e12,"p":"W","g":"1"},{"h":6.477,"n":1.62e12,"p":"W","g":"1"},{"h":6.521,"n":1.86e12,"p":"W","g":"1"},{"h":6.54,"n":2.0e12,"p":"W","g":"1"},{"h":6.565,"n":2.0e12,"p":"W","g":"1"},{"h":6.588,"n":9.3e11,"p":"W","g":"1"},{"h":6.61,"n":7.8e11,"p":"W","g":"1"},{"h":6.654,"n":7.4e11,"p":"W","g":"1"},{"h":6.69,"n":7.6e11,"p":"W","g":"1"},
{"h":6.732,"n":6.6e11,"p":"W","g":"2"},{"h":6.765,"n":5.4e11,"p":"W","g":"2"},{"h":6.809,"n":4.3e11,"p":"W","g":"2"},{"h":6.831,"n":3.2e11,"p":"W","g":"2"},
{"h":7.479,"n":6.2e11,"p":"W","g":"3"},{"h":7.541,"n":5.0e11,"p":"W","g":"3"},{"h":7.63,"n":3.7e11,"p":"W","g":"3"},{"h":7.696,"n":2.7e11,"p":"W","g":"3"},{"h":7.763,"n":1.78e11,"p":"W","g":"3"},{"h":7.785,"n":1.66e11,"p":"W","g":"3"},{"h":7.829,"n":2.1e11,"p":"W","g":"3"},{"h":7.874,"n":4.4e11,"p":"W","g":"3"},{"h":7.918,"n":9.5e11,"p":"W","g":"3"},{"h":7.962,"n":1.15e12,"p":"W","g":"3"},{"h":8.029,"n":1.15e12,"p":"W","g":"3"},{"h":8.095,"n":9.8e11,"p":"W","g":"3"},{"h":8.151,"n":7.1e11,"p":"W","g":"3"},{"h":8.184,"n":5.75e11,"p":"W","g":"3"},
{"h":8.239,"n":6.2e11,"p":"W","g":"4"},{"h":8.317,"n":6.2e11,"p":"W","g":"4"},{"h":8.384,"n":4.8e11,"p":"W","g":"4"},{"h":8.428,"n":4.3e11,"p":"W","g":"4"},{"h":8.494,"n":5.0e11,"p":"W","g":"4"},{"h":8.561,"n":6.0e11,"p":"W","g":"4"},{"h":8.65,"n":7.2e11,"p":"W","g":"4"},{"h":8.716,"n":8.7e11,"p":"W","g":"4"},{"h":8.783,"n":1.41e12,"p":"W","g":"4"},{"h":8.827,"n":1.74e12,"p":"W","g":"4"},{"h":8.86,"n":2.0e12,"p":"W","g":"4"},
{"h":9.07,"n":5.0e11,"p":"W","g":"5"},{"h":9.125,"n":4.6e11,"p":"W","g":"5"},{"h":9.235,"n":3.2e11,"p":"W","g":"5"},{"h":9.322,"n":2.1e11,"p":"W","g":"5"},{"h":9.344,"n":3.0e11,"p":"W","g":"5"},{"h":9.377,"n":7.0e11,"p":"W","g":"5"},{"h":9.41,"n":1.4e12,"p":"W","g":"5"},{"h":9.476,"n":1.32e12,"p":"W","g":"5"},{"h":9.564,"n":1.18e12,"p":"W","g":"5"},{"h":9.629,"n":9.2e11,"p":"W","g":"5"},{"h":9.695,"n":7.3e11,"p":"W","g":"5"},{"h":9.783,"n":6.4e11,"p":"W","g":"5"},{"h":9.838,"n":5.8e11,"p":"W","g":"5"},
{"h":9.871,"n":6.0e11,"p":"W","g":"6"},{"h":9.958,"n":5.3e11,"p":"W","g":"6"},{"h":10.046,"n":5.6e11,"p":"W","g":"6"},{"h":10.112,"n":5.9e11,"p":"W","g":"6"},{"h":10.178,"n":9.3e11,"p":"W","g":"6"},{"h":10.221,"n":1.02e12,"p":"W","g":"6"},
{"h":6.0,"n":3.98e11,"p":"N","g":"1"},{"h":6.055,"n":3.39e11,"p":"N","g":"1"},{"h":6.122,"n":2.75e11,"p":"N","g":"1"},{"h":6.188,"n":2.14e11,"p":"N","g":"1"},{"h":6.233,"n":2.0e11,"p":"N","g":"1"},{"h":6.277,"n":2.14e11,"p":"N","g":"1"},{"h":6.31,"n":2.75e11,"p":"N","g":"1"},{"h":6.344,"n":4.47e11,"p":"N","g":"1"},{"h":6.388,"n":1.17e12,"p":"N","g":"1"},{"h":6.432,"n":1.45e12,"p":"N","g":"1"},{"h":6.477,"n":1.55e12,"p":"N","g":"1"},{"h":6.521,"n":1.78e12,"p":"N","g":"1"},{"h":6.54,"n":2.0e12,"p":"N","g":"1"},{"h":6.565,"n":2.0e12,"p":"N","g":"1"},{"h":6.588,"n":9.1e11,"p":"N","g":"1"},{"h":6.61,"n":7.4e11,"p":"N","g":"1"},{"h":6.654,"n":7.1e11,"p":"N","g":"1"},{"h":6.69,"n":7.2e11,"p":"N","g":"1"},
{"h":6.732,"n":6.3e11,"p":"N","g":"2"},{"h":6.765,"n":5.1e11,"p":"N","g":"2"},{"h":6.809,"n":4.2e11,"p":"N","g":"2"},{"h":6.831,"n":3.1e11,"p":"N","g":"2"},
{"h":7.479,"n":6.0e11,"p":"N","g":"3"},{"h":7.541,"n":4.9e11,"p":"N","g":"3"},{"h":7.63,"n":3.8e11,"p":"N","g":"3"},{"h":7.696,"n":2.95e11,"p":"N","g":"3"},{"h":7.763,"n":2.04e11,"p":"N","g":"3"},{"h":7.785,"n":1.95e11,"p":"N","g":"3"},{"h":7.829,"n":2.4e11,"p":"N","g":"3"},{"h":7.874,"n":4.47e11,"p":"N","g":"3"},{"h":7.918,"n":9.1e11,"p":"N","g":"3"},{"h":7.962,"n":1.07e12,"p":"N","g":"3"},{"h":8.029,"n":1.07e12,"p":"N","g":"3"},{"h":8.095,"n":9.1e11,"p":"N","g":"3"},{"h":8.151,"n":6.8e11,"p":"N","g":"3"},{"h":8.184,"n":5.5e11,"p":"N","g":"3"},
{"h":8.239,"n":6.0e11,"p":"N","g":"4"},{"h":8.317,"n":6.0e11,"p":"N","g":"4"},{"h":8.384,"n":4.9e11,"p":"N","g":"4"},{"h":8.428,"n":4.2e11,"p":"N","g":"4"},{"h":8.494,"n":4.7e11,"p":"N","g":"4"},{"h":8.561,"n":5.5e11,"p":"N","g":"4"},{"h":8.65,"n":6.8e11,"p":"N","g":"4"},{"h":8.716,"n":8.3e11,"p":"N","g":"4"},{"h":8.783,"n":1.38e12,"p":"N","g":"4"},{"h":8.827,"n":1.7e12,"p":"N","g":"4"},{"h":8.86,"n":2.0e12,"p":"N","g":"4"},
{"h":9.07,"n":5.1e11,"p":"N","g":"5"},{"h":9.125,"n":4.9e11,"p":"N","g":"5"},{"h":9.235,"n":3.6e11,"p":"N","g":"5"},{"h":9.322,"n":2.6e11,"p":"N","g":"5"},{"h":9.344,"n":3.5e11,"p":"N","g":"5"},{"h":9.377,"n":7.4e11,"p":"N","g":"5"},{"h":9.41,"n":1.38e12,"p":"N","g":"5"},{"h":9.476,"n":1.26e12,"p":"N","g":"5"},{"h":9.564,"n":1.12e12,"p":"N","g":"5"},{"h":9.629,"n":8.7e11,"p":"N","g":"5"},{"h":9.695,"n":6.8e11,"p":"N","g":"5"},{"h":9.783,"n":6.0e11,"p":"N","g":"5"},{"h":9.838,"n":5.5e11,"p":"N","g":"5"},
{"h":9.871,"n":5.75e11,"p":"N","g":"6"},{"h":9.958,"n":5.1e11,"p":"N","g":"6"},{"h":10.046,"n":5.5e11,"p":"N","g":"6"},{"h":10.112,"n":5.75e11,"p":"N","g":"6"},{"h":10.178,"n":9.1e11,"p":"N","g":"6"},{"h":10.221,"n":1.0e12,"p":"N","g":"6"}
],
"dout":[
{"h":6.6,"n":1.9e12,"p":"W"},{"h":6.72,"n":7.0e11,"p":"W"},{"h":6.8,"n":1.5e12,"p":"W"},{"h":7.51,"n":1.66e11,"p":"N"},{"h":7.55,"n":7.4e11,"p":"W"},{"h":7.6,"n":8.0e11,"p":"W"},{"h":8.29,"n":3.0e11,"p":"W"},{"h":8.34,"n":3.2e10,"p":"N"},{"h":8.84,"n":3.98e11,"p":"N"},{"h":8.92,"n":5.5e11,"p":"W"},{"h":9.07,"n":3.4e11,"p":"W"},{"h":9.45,"n":1.55e12,"p":"W"},{"h":9.98,"n":4.4e11,"p":"N"},{"h":10.05,"n":4.8e11,"p":"W"}
]
},
"vconcat":[
{
"width":1040,"height":169,
"data":{"values":[{}]},
"resolve":{"scale":{"y":"independent"},"axis":{"y":"independent"}},
"layer":[
{"mark":{"type":"rule","color":"#8a8a8a","strokeWidth":2.5},"encoding":{"y":{"datum":0,"type":"quantitative","scale":{"domain":[-10,50],"nice":false,"zero":false},"axis":{"orient":"left","values":[42.5,27.5,12.5,-2.5],"labels":false,"domain":false,"tickSize":-10,"title":null}}}},
{"data":{"name":"volt"},"mark":{"type":"line","strokeWidth":1.6},"encoding":{"x":{"field":"h","type":"quantitative","scale":{"domain":[6,12],"nice":false,"zero":false},"axis":null},"y":{"field":"v","type":"quantitative","scale":{"domain":[-10,50],"nice":false,"zero":false},"axis":{"orient":"left","values":[50,35,20,5,-10],"tickSize":-20,"labelPadding":27,"labelFlush":true,"title":"Voltage (-V)","titleX":-73,"titleY":85,"titleAngle":270,"titleBaseline":"middle","titleAlign":"center"}},"color":{"field":"s","type":"nominal","scale":{"domain":["STRB","FPMU","Port"],"range":["#45c85a","#1e1e1e","#e23a3f"]},"legend":null},"detail":{"field":"g","type":"nominal"}}},
{"mark":{"type":"rule","color":"#e9cf2b","strokeWidth":4},"encoding":{"y":{"datum":50,"type":"quantitative","scale":{"domain":[-10,50],"nice":false,"zero":false},"axis":{"orient":"right","values":[50,35,20,5,-10],"labels":false,"tickSize":-20,"title":null}}}},
{"mark":{"type":"rule","color":"#e9cf2b","strokeWidth":4},"encoding":{"y":{"datum":-10,"type":"quantitative","scale":{"domain":[-10,50],"nice":false,"zero":false},"axis":{"orient":"right","values":[42.5,27.5,12.5,-2.5],"labels":false,"domain":false,"tickSize":-10,"title":null}}}},
{"data":{"name":"ecl"},"mark":{"type":"rule","color":"#1a1a1a","strokeWidth":4},"encoding":{"x":{"field":"a","type":"quantitative","scale":{"domain":[6,12],"nice":false,"zero":false},"axis":null},"x2":{"field":"b"},"y":{"datum":50,"type":"quantitative","scale":{"domain":[-10,50],"nice":false,"zero":false},"axis":null}}},
{"data":{"name":"ecl"},"mark":{"type":"rule","color":"#1a1a1a","strokeWidth":4},"encoding":{"x":{"field":"a","type":"quantitative","scale":{"domain":[6,12],"nice":false,"zero":false},"axis":null},"x2":{"field":"b"},"y":{"datum":-10,"type":"quantitative","scale":{"domain":[-10,50],"nice":false,"zero":false},"axis":null}}},
{"mark":{"type":"square","size":110,"filled":true,"color":"#22e03a","opacity":1},"encoding":{"x":{"datum":6.30,"type":"quantitative","scale":{"domain":[6,12],"nice":false,"zero":false},"axis":null},"y":{"datum":44.7,"type":"quantitative","scale":{"domain":[-10,50],"nice":false,"zero":false},"axis":null}}},
{"mark":{"type":"text","align":"left","baseline":"middle","fontSize":18,"font":"DejaVu Serif","color":"#222222"},"encoding":{"x":{"datum":6.387,"type":"quantitative","scale":{"domain":[6,12],"nice":false,"zero":false},"axis":null},"y":{"datum":44.7,"type":"quantitative","scale":{"domain":[-10,50],"nice":false,"zero":false},"axis":null},"text":{"value":"STRB Tip"}}},
{"mark":{"type":"square","size":110,"filled":true,"color":"#111111","opacity":1},"encoding":{"x":{"datum":8.70,"type":"quantitative","scale":{"domain":[6,12],"nice":false,"zero":false},"axis":null},"y":{"datum":44.7,"type":"quantitative","scale":{"domain":[-10,50],"nice":false,"zero":false},"axis":null}}},
{"mark":{"type":"text","align":"left","baseline":"middle","fontSize":18,"font":"DejaVu Serif","color":"#222222"},"encoding":{"x":{"datum":8.787,"type":"quantitative","scale":{"domain":[6,12],"nice":false,"zero":false},"axis":null},"y":{"datum":44.7,"type":"quantitative","scale":{"domain":[-10,50],"nice":false,"zero":false},"axis":null},"text":{"value":"FPMU"}}},
{"mark":{"type":"square","size":110,"filled":true,"color":"#ee1111","opacity":1},"encoding":{"x":{"datum":11.135,"type":"quantitative","scale":{"domain":[6,12],"nice":false,"zero":false},"axis":null},"y":{"datum":44.7,"type":"quantitative","scale":{"domain":[-10,50],"nice":false,"zero":false},"axis":null}}},
{"mark":{"type":"text","align":"left","baseline":"middle","fontSize":18,"font":"DejaVu Serif","color":"#222222"},"encoding":{"x":{"datum":11.222,"type":"quantitative","scale":{"domain":[6,12],"nice":false,"zero":false},"axis":null},"y":{"datum":44.7,"type":"quantitative","scale":{"domain":[-10,50],"nice":false,"zero":false},"axis":null},"text":{"value":"Port Tip"}}}
]
},
{
"width":1040,"height":171,
"data":{"values":[{}]},
"resolve":{"scale":{"y":"independent"},"axis":{"y":"independent"}},
"layer":[
{"data":{"name":"lat"},"mark":{"type":"line","strokeWidth":1.6,"color":"#6fdcb6","interpolate":"monotone"},"encoding":{"x":{"field":"h","type":"quantitative","scale":{"domain":[6,12],"nice":false,"zero":false},"axis":null},"y":{"field":"lat","type":"quantitative","scale":{"domain":[-90,90],"nice":false,"zero":false},"axis":{"orient":"right","values":[90,45,0,-45,-90],"tickSize":-20,"labelPadding":27,"labelFlush":true,"title":"Lat (Deg)","titleX":55,"titleY":85,"titleAngle":270,"titleBaseline":"middle","titleAlign":"center"}}}},
{"data":{"name":"lon"},"mark":{"type":"line","strokeWidth":1.6,"color":"#2a2a2a","interpolate":"monotone"},"encoding":{"x":{"field":"h","type":"quantitative","scale":{"domain":[6,12],"nice":false,"zero":false},"axis":null},"y":{"field":"lon","type":"quantitative","scale":{"domain":[0,360],"nice":false,"zero":false},"axis":{"orient":"left","values":[360,270,180,90,0],"tickSize":-20,"labelPadding":27,"labelFlush":true,"title":"Lon (Deg)","titleX":-73,"titleY":85,"titleAngle":270,"titleBaseline":"middle","titleAlign":"center"}}}},
{"mark":{"type":"rule","color":"#e9cf2b","strokeWidth":4},"encoding":{"y":{"datum":360,"type":"quantitative","scale":{"domain":[0,360],"nice":false,"zero":false},"axis":{"orient":"left","values":[315,225,135,45],"labels":false,"domain":false,"tickSize":-10,"title":null}}}},
{"mark":{"type":"rule","color":"#e9cf2b","strokeWidth":4},"encoding":{"y":{"datum":-90,"type":"quantitative","scale":{"domain":[-90,90],"nice":false,"zero":false},"axis":{"orient":"right","values":[67.5,22.5,-22.5,-67.5],"labels":false,"domain":false,"tickSize":-10,"title":null}}}},
{"data":{"name":"ecl"},"mark":{"type":"rule","color":"#1a1a1a","strokeWidth":4},"encoding":{"x":{"field":"a","type":"quantitative","scale":{"domain":[6,12],"nice":false,"zero":false},"axis":null},"x2":{"field":"b"},"y":{"datum":360,"type":"quantitative","scale":{"domain":[0,360],"nice":false,"zero":false},"axis":null}}},
{"data":{"name":"ecl"},"mark":{"type":"rule","color":"#1a1a1a","strokeWidth":4},"encoding":{"x":{"field":"a","type":"quantitative","scale":{"domain":[6,12],"nice":false,"zero":false},"axis":null},"x2":{"field":"b"},"y":{"datum":0,"type":"quantitative","scale":{"domain":[0,360],"nice":false,"zero":false},"axis":null}}},
{"mark":{"type":"square","size":80,"filled":true,"color":"#33e6a6","opacity":1},"encoding":{"x":{"datum":11.135,"type":"quantitative","scale":{"domain":[6,12],"nice":false,"zero":false},"axis":null},"y":{"datum":318,"type":"quantitative","scale":{"domain":[0,360],"nice":false,"zero":false},"axis":null}}},
{"mark":{"type":"text","align":"left","baseline":"middle","fontSize":16,"font":"Liberation Serif","color":"#222222"},"encoding":{"x":{"datum":11.222,"type":"quantitative","scale":{"domain":[6,12],"nice":false,"zero":false},"axis":null},"y":{"datum":318,"type":"quantitative","scale":{"domain":[0,360],"nice":false,"zero":false},"axis":null},"text":{"value":"Lat"}}},
{"mark":{"type":"square","size":80,"filled":true,"color":"#111111","opacity":1},"encoding":{"x":{"datum":11.135,"type":"quantitative","scale":{"domain":[6,12],"nice":false,"zero":false},"axis":null},"y":{"datum":284,"type":"quantitative","scale":{"domain":[0,360],"nice":false,"zero":false},"axis":null}}},
{"mark":{"type":"text","align":"left","baseline":"middle","fontSize":16,"font":"Liberation Serif","color":"#222222"},"encoding":{"x":{"datum":11.222,"type":"quantitative","scale":{"domain":[6,12],"nice":false,"zero":false},"axis":null},"y":{"datum":284,"type":"quantitative","scale":{"domain":[0,360],"nice":false,"zero":false},"axis":null},"text":{"value":"Lon"}}}
]
},
{
"width":1040,"height":172,
"data":{"values":[{}]},
"resolve":{"scale":{"y":"independent"},"axis":{"y":"independent"}},
"layer":[
{"data":{"name":"att"},"mark":{"type":"line","strokeWidth":1.6},"encoding":{"x":{"field":"h","type":"quantitative","scale":{"domain":[6,12],"nice":false,"zero":false},"axis":null},"y":{"field":"a","type":"quantitative","scale":{"domain":[-180,180],"nice":false,"zero":false},"axis":{"orient":"left","values":[180,90,0,-90,-180],"tickSize":-20,"labelPadding":27,"labelFlush":true,"title":"Vehicle Attitude","titleX":-73,"titleY":86,"titleAngle":270,"titleBaseline":"middle","titleAlign":"center"}},"color":{"field":"s","type":"nominal","scale":{"domain":["Yaw","Roll","Pitch"],"range":["#111111","#3ccf4e","#d24a3a"]},"legend":null}}},
{"mark":{"type":"rule","color":"#e9cf2b","strokeWidth":4},"encoding":{"y":{"datum":180,"type":"quantitative","scale":{"domain":[-180,180],"nice":false,"zero":false},"axis":{"orient":"left","values":[135,45,-45,-135],"labels":false,"domain":false,"tickSize":-10,"title":null}}}},
{"mark":{"type":"rule","color":"#e9cf2b","strokeWidth":4},"encoding":{"y":{"datum":-180,"type":"quantitative","scale":{"domain":[-180,180],"nice":false,"zero":false},"axis":{"orient":"right","values":[180,90,0,-90,-180],"labels":false,"tickSize":-20,"title":null}}}},
{"data":{"name":"ecl"},"mark":{"type":"rule","color":"#1a1a1a","strokeWidth":4},"encoding":{"x":{"field":"a","type":"quantitative","scale":{"domain":[6,12],"nice":false,"zero":false},"axis":null},"x2":{"field":"b"},"y":{"datum":180,"type":"quantitative","scale":{"domain":[-180,180],"nice":false,"zero":false},"axis":{"orient":"right","values":[135,45,-45,-135],"labels":false,"domain":false,"tickSize":-10,"title":null}}}},
{"data":{"name":"ecl"},"mark":{"type":"rule","color":"#1a1a1a","strokeWidth":4},"encoding":{"x":{"field":"a","type":"quantitative","scale":{"domain":[6,12],"nice":false,"zero":false},"axis":null},"x2":{"field":"b"},"y":{"datum":-180,"type":"quantitative","scale":{"domain":[-180,180],"nice":false,"zero":false},"axis":null}}},
{"mark":{"type":"square","size":110,"filled":true,"color":"#111111","opacity":1},"encoding":{"x":{"datum":6.30,"type":"quantitative","scale":{"domain":[6,12],"nice":false,"zero":false},"axis":null},"y":{"datum":144,"type":"quantitative","scale":{"domain":[-180,180],"nice":false,"zero":false},"axis":null}}},
{"mark":{"type":"text","align":"left","baseline":"middle","fontSize":18,"font":"DejaVu Serif","color":"#222222"},"encoding":{"x":{"datum":6.375,"type":"quantitative","scale":{"domain":[6,12],"nice":false,"zero":false},"axis":null},"y":{"datum":144,"type":"quantitative","scale":{"domain":[-180,180],"nice":false,"zero":false},"axis":null},"text":{"value":"Yaw"}}},
{"mark":{"type":"square","size":110,"filled":true,"color":"#ee1111","opacity":1},"encoding":{"x":{"datum":6.895,"type":"quantitative","scale":{"domain":[6,12],"nice":false,"zero":false},"axis":null},"y":{"datum":144,"type":"quantitative","scale":{"domain":[-180,180],"nice":false,"zero":false},"axis":null}}},
{"mark":{"type":"text","align":"left","baseline":"middle","fontSize":18,"font":"DejaVu Serif","color":"#222222"},"encoding":{"x":{"datum":6.98,"type":"quantitative","scale":{"domain":[6,12],"nice":false,"zero":false},"axis":null},"y":{"datum":144,"type":"quantitative","scale":{"domain":[-180,180],"nice":false,"zero":false},"axis":null},"text":{"value":"Pitch"}}},
{"mark":{"type":"square","size":110,"filled":true,"color":"#22e03a","opacity":1},"encoding":{"x":{"datum":7.47,"type":"quantitative","scale":{"domain":[6,12],"nice":false,"zero":false},"axis":null},"y":{"datum":144,"type":"quantitative","scale":{"domain":[-180,180],"nice":false,"zero":false},"axis":null}}},
{"mark":{"type":"text","align":"left","baseline":"middle","fontSize":18,"font":"DejaVu Serif","color":"#222222"},"encoding":{"x":{"datum":7.56,"type":"quantitative","scale":{"domain":[6,12],"nice":false,"zero":false},"axis":null},"y":{"datum":144,"type":"quantitative","scale":{"domain":[-180,180],"nice":false,"zero":false},"axis":null},"text":{"value":"Roll"}}}
]
},
{
"width":1040,"height":172,
"data":{"values":[{}]},
"resolve":{"scale":{"y":"independent"},"axis":{"y":"independent"}},
"layer":[
{"data":{"name":"te"},"mark":{"type":"square","size":13,"filled":true,"opacity":0.85},"encoding":{"x":{"field":"h","type":"quantitative","scale":{"domain":[6,12],"nice":false,"zero":false},"axis":null},"y":{"field":"t","type":"quantitative","scale":{"domain":[0,0.4],"nice":false,"zero":false},"axis":{"orient":"left","values":[0,0.1,0.2,0.3,0.4],"format":".1f","tickSize":-20,"labelPadding":27,"labelFlush":true,"title":"Te (eV)","titleX":-73,"titleY":86,"titleAngle":270,"titleBaseline":"middle","titleAlign":"center"}},"color":{"field":"p","type":"nominal","scale":{"domain":["N","W"],"range":["#1f3df2","#f8943c"]},"legend":null}}},
{"mark":{"type":"rule","color":"#e9cf2b","strokeWidth":4},"encoding":{"y":{"datum":0.4,"type":"quantitative","scale":{"domain":[0,0.4],"nice":false,"zero":false},"axis":{"orient":"left","values":[0.05,0.15,0.25,0.35],"labels":false,"domain":false,"tickSize":-10,"title":null}}}},
{"mark":{"type":"rule","color":"#e9cf2b","strokeWidth":4},"encoding":{"y":{"datum":0,"type":"quantitative","scale":{"domain":[0,0.4],"nice":false,"zero":false},"axis":{"orient":"right","values":[0,0.1,0.2,0.3,0.4],"labels":false,"tickSize":-20,"title":null}}}},
{"data":{"name":"ecl"},"mark":{"type":"rule","color":"#1a1a1a","strokeWidth":4},"encoding":{"x":{"field":"a","type":"quantitative","scale":{"domain":[6,12],"nice":false,"zero":false},"axis":null},"x2":{"field":"b"},"y":{"datum":0.4,"type":"quantitative","scale":{"domain":[0,0.4],"nice":false,"zero":false},"axis":{"orient":"right","values":[0.05,0.15,0.25,0.35],"labels":false,"domain":false,"tickSize":-10,"title":null}}}},
{"data":{"name":"ecl"},"mark":{"type":"rule","color":"#1a1a1a","strokeWidth":4},"encoding":{"x":{"field":"a","type":"quantitative","scale":{"domain":[6,12],"nice":false,"zero":false},"axis":null},"x2":{"field":"b"},"y":{"datum":0,"type":"quantitative","scale":{"domain":[0,0.4],"nice":false,"zero":false},"axis":null}}},
{"mark":{"type":"square","size":80,"filled":true,"color":"#1f3df2","opacity":1},"encoding":{"x":{"datum":11.135,"type":"quantitative","scale":{"domain":[6,12],"nice":false,"zero":false},"axis":null},"y":{"datum":0.360,"type":"quantitative","scale":{"domain":[0,0.4],"nice":false,"zero":false},"axis":null}}},
{"mark":{"type":"text","align":"left","baseline":"middle","fontSize":16,"font":"Liberation Serif","color":"#222222"},"encoding":{"x":{"datum":11.222,"type":"quantitative","scale":{"domain":[6,12],"nice":false,"zero":false},"axis":null},"y":{"datum":0.360,"type":"quantitative","scale":{"domain":[0,0.4],"nice":false,"zero":false},"axis":null},"text":{"value":"NLP"}}},
{"mark":{"type":"square","size":80,"filled":true,"color":"#f8943c","opacity":1},"encoding":{"x":{"datum":11.135,"type":"quantitative","scale":{"domain":[6,12],"nice":false,"zero":false},"axis":null},"y":{"datum":0.321,"type":"quantitative","scale":{"domain":[0,0.4],"nice":false,"zero":false},"axis":null}}},
{"mark":{"type":"text","align":"left","baseline":"middle","fontSize":16,"font":"Liberation Serif","color":"#222222"},"encoding":{"x":{"datum":11.222,"type":"quantitative","scale":{"domain":[6,12],"nice":false,"zero":false},"axis":null},"y":{"datum":0.321,"type":"quantitative","scale":{"domain":[0,0.4],"nice":false,"zero":false},"axis":null},"text":{"value":"WLP"}}}
]
},
{
"width":1040,"height":171,
"data":{"values":[{}]},
"title":{"text":"Document created on: Fri Oct 02, 2015","orient":"bottom","anchor":"end","fontSize":11,"fontWeight":"bold","font":"DejaVu Serif","color":"#222222","offset":-8,"dx":-20},
"resolve":{"scale":{"y":"independent"},"axis":{"y":"independent"}},
"layer":[
{"data":{"name":"dens"},"transform":[{"filter":"datum.p == 'W'"}],"mark":{"type":"line","strokeWidth":4,"color":"#f8943c"},"encoding":{"x":{"field":"h","type":"quantitative","scale":{"domain":[6,12],"nice":false,"zero":false},"axis":{"orient":"bottom","values":[6,7,8,9,10,11,12],"format":"d","tickSize":-6,"labelPadding":17,"labelFlush":false,"domain":false,"title":"GMT Hour","titleFontSize":16,"titleX":507,"titlePadding":4}},"y":{"field":"n","type":"quantitative","scale":{"type":"log","domain":[1e10,2e12],"nice":false,"zero":false},"axis":{"orient":"left","values":[1e10,1e11,1e12],"labelExpr":"datum.value >= 1e12 ? '10¹²' : (datum.value >= 1e11 ? '10¹¹' : '10¹⁰')","tickSize":-20,"labelPadding":27,"labelFlush":true,"title":"Density (#/m³)","titleX":-68,"titleY":85,"titleAngle":270,"titleBaseline":"middle","titleAlign":"center"}},"detail":{"field":"g","type":"nominal"}}},
{"data":{"name":"dens"},"transform":[{"filter":"datum.p == 'N'"}],"mark":{"type":"line","strokeWidth":2.6,"color":"#1f3df2"},"encoding":{"x":{"field":"h","type":"quantitative","scale":{"domain":[6,12],"nice":false,"zero":false}},"y":{"field":"n","type":"quantitative","scale":{"type":"log","domain":[1e10,2e12],"nice":false,"zero":false},"axis":null},"detail":{"field":"g","type":"nominal"}}},
{"data":{"name":"dout"},"mark":{"type":"square","size":8,"filled":true,"opacity":0.7},"encoding":{"x":{"field":"h","type":"quantitative","scale":{"domain":[6,12],"nice":false,"zero":false}},"y":{"field":"n","type":"quantitative","scale":{"type":"log","domain":[1e10,2e12],"nice":false,"zero":false},"axis":null},"color":{"field":"p","type":"nominal","scale":{"domain":["N","W"],"range":["#1f3df2","#f8943c"]},"legend":null}}},
{"mark":{"type":"rule","color":"#e9cf2b","strokeWidth":4},"encoding":{"y":{"datum":2e12,"type":"quantitative","scale":{"type":"log","domain":[1e10,2e12],"nice":false,"zero":false},"axis":{"orient":"left","values":[2e10,3e10,4e10,5e10,6e10,7e10,8e10,9e10,2e11,3e11,4e11,5e11,6e11,7e11,8e11,9e11],"labels":false,"domain":false,"tickSize":-10,"title":null}}}},
{"mark":{"type":"rule","color":"#e9cf2b","strokeWidth":4},"encoding":{"y":{"datum":1e10,"type":"quantitative","scale":{"type":"log","domain":[1e10,2e12],"nice":false,"zero":false},"axis":{"orient":"right","values":[1e10,1e11,1e12],"labels":false,"tickSize":-20,"title":null}}}},
{"data":{"name":"ecl"},"mark":{"type":"rule","color":"#1a1a1a","strokeWidth":4},"encoding":{"x":{"field":"a","type":"quantitative","scale":{"domain":[6,12],"nice":false,"zero":false}},"x2":{"field":"b"},"y":{"datum":2e12,"type":"quantitative","scale":{"type":"log","domain":[1e10,2e12],"nice":false,"zero":false},"axis":{"orient":"right","values":[2e10,3e10,4e10,5e10,6e10,7e10,8e10,9e10,2e11,3e11,4e11,5e11,6e11,7e11,8e11,9e11],"labels":false,"domain":false,"tickSize":-10,"title":null}}}},
{"data":{"name":"ecl"},"mark":{"type":"rule","color":"#1a1a1a","strokeWidth":4},"encoding":{"x":{"field":"a","type":"quantitative","scale":{"domain":[6,12],"nice":false,"zero":false}},"x2":{"field":"b"},"y":{"datum":1e10,"type":"quantitative","scale":{"type":"log","domain":[1e10,2e12],"nice":false,"zero":false},"axis":null}}},
{"mark":{"type":"square","size":80,"filled":true,"color":"#1f3df2","opacity":1},"encoding":{"x":{"datum":11.135,"type":"quantitative","scale":{"domain":[6,12],"nice":false,"zero":false}},"y":{"datum":1.16e12,"type":"quantitative","scale":{"type":"log","domain":[1e10,2e12],"nice":false,"zero":false},"axis":null}}},
{"mark":{"type":"text","align":"left","baseline":"middle","fontSize":16,"font":"Liberation Serif","color":"#222222"},"encoding":{"x":{"datum":11.222,"type":"quantitative","scale":{"domain":[6,12],"nice":false,"zero":false}},"y":{"datum":1.16e12,"type":"quantitative","scale":{"type":"log","domain":[1e10,2e12],"nice":false,"zero":false},"axis":null},"text":{"value":"NLP"}}},
{"mark":{"type":"square","size":80,"filled":true,"color":"#f8943c","opacity":1},"encoding":{"x":{"datum":11.135,"type":"quantitative","scale":{"domain":[6,12],"nice":false,"zero":false}},"y":{"datum":6.9e11,"type":"quantitative","scale":{"type":"log","domain":[1e10,2e12],"nice":false,"zero":false},"axis":null}}},
{"mark":{"type":"text","align":"left","baseline":"middle","fontSize":16,"font":"Liberation Serif","color":"#222222"},"encoding":{"x":{"datum":11.222,"type":"quantitative","scale":{"domain":[6,12],"nice":false,"zero":false}},"y":{"datum":6.9e11,"type":"quantitative","scale":{"type":"log","domain":[1e10,2e12],"nice":false,"zero":false},"axis":null},"text":{"value":"WLP"}}}
]
}
]
}
